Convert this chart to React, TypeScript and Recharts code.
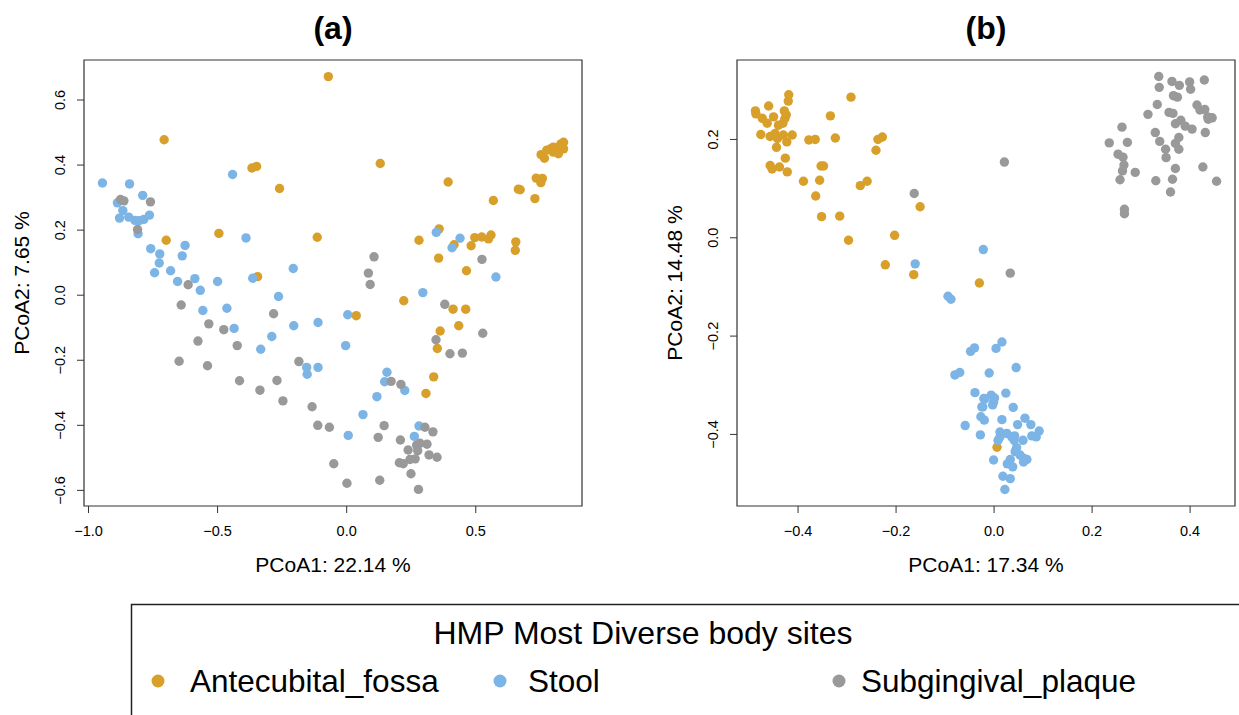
import React from 'react';
import { ScatterChart, Scatter, XAxis, YAxis, ReferenceArea } from 'recharts';

// categories and colours
const sites = ['Antecubital_fossa', 'Stool', 'Subgingival_plaque'];
const siteColors = ['#D8A02A', '#7CB4E6', '#999999'];

// panel (a) - PCoA1 vs PCoA2
const aFossa: number[][] = [
  [-0.707, 0.478], [-0.367, 0.391], [-0.349, 0.396], [-0.26, 0.328], [-0.495, 0.19], [-0.114, 0.178],
  [-0.699, 0.169], [-0.345, 0.057], [0.037, -0.063], [0.221, -0.017], [0.412, -0.043], [0.461, -0.043],
  [0.362, -0.11], [0.434, -0.094], [0.351, -0.164], [0.337, -0.251], [0.307, -0.302], [0.464, 0.075],
  [-0.071, 0.672], [0.13, 0.405], [0.393, 0.348], [0.568, 0.291], [0.665, 0.326], [0.672, 0.324],
  [0.729, 0.297], [0.734, 0.36], [0.758, 0.359], [0.752, 0.346], [0.753, 0.432], [0.766, 0.421],
  [0.775, 0.446], [0.28, 0.169], [0.358, 0.204], [0.416, 0.155], [0.496, 0.177], [0.523, 0.179],
  [0.549, 0.173], [0.559, 0.185], [0.482, 0.152], [0.655, 0.164], [0.653, 0.138], [0.356, 0.114],
  [0.79, 0.45], [0.8, 0.44], [0.81, 0.445], [0.82, 0.455], [0.83, 0.465], [0.84, 0.47],
  [0.835, 0.455], [0.82, 0.435], [0.8, 0.455], [0.84, 0.45],
];
const aStool: number[][] = [
  [-0.946, 0.345], [-0.841, 0.342], [-0.442, 0.371], [-0.79, 0.307], [-0.888, 0.284], [-0.867, 0.26],
  [-0.88, 0.237], [-0.844, 0.24], [-0.82, 0.23], [-0.804, 0.229], [-0.786, 0.233], [-0.764, 0.246],
  [-0.808, 0.189], [-0.39, 0.176], [-0.759, 0.143], [-0.626, 0.153], [-0.724, 0.127], [-0.637, 0.121],
  [-0.726, 0.099], [-0.744, 0.069], [-0.682, 0.075], [-0.207, 0.082], [-0.655, 0.042], [-0.588, 0.051],
  [-0.5, 0.042], [-0.364, 0.052], [-0.567, 0.015], [-0.557, -0.047], [-0.464, -0.04], [-0.264, -0.004],
  [-0.436, -0.102], [-0.205, -0.094], [-0.111, -0.084], [-0.29, -0.127], [-0.333, -0.166], [-0.155, -0.222],
  [-0.153, -0.243], [-0.111, -0.222], [0.578, 0.056], [0.295, 0.008], [0.004, -0.06], [-0.004, -0.155],
  [0.156, -0.237], [0.147, -0.266], [0.225, -0.293], [0.117, -0.312], [0.063, -0.367], [0.006, -0.431],
  [0.28, -0.402], [0.262, -0.434], [0.347, 0.193], [0.439, 0.175], [0.408, 0.146],
];
const aPlaque: number[][] = [
  [-0.876, 0.294], [-0.863, 0.29], [-0.76, 0.287], [-0.81, 0.202], [-0.614, 0.032], [-0.641, -0.03],
  [-0.283, -0.057], [-0.534, -0.088], [-0.476, -0.106], [-0.576, -0.141], [-0.424, -0.155], [-0.649, -0.203],
  [-0.539, -0.217], [-0.185, -0.204], [-0.415, -0.263], [-0.336, -0.292], [-0.27, -0.262], [-0.247, -0.325],
  [-0.134, -0.343], [-0.112, -0.4], [0.084, 0.068], [0.091, 0.033], [0.38, -0.028], [0.527, -0.117],
  [0.346, -0.137], [0.4, -0.18], [0.448, -0.178], [0.172, -0.265], [0.21, -0.274], [-0.067, -0.406],
  [0.145, -0.401], [0.122, -0.437], [0.303, -0.406], [0.334, -0.42], [0.208, -0.445], [0.271, -0.461],
  [0.284, -0.455], [0.311, -0.458], [0.238, -0.476], [0.275, -0.478], [0.319, -0.491], [0.35, -0.498],
  [0.245, -0.505], [0.265, -0.503], [0.204, -0.515], [0.219, -0.518], [-0.05, -0.518], [0.249, -0.549],
  [0.128, -0.569], [0.001, -0.578], [0.278, -0.597], [0.106, 0.118], [0.524, 0.11],
];

// panel (b)
const bFossa: number[][] = [
  [-0.419, 0.291], [-0.42, 0.278], [-0.292, 0.286], [-0.46, 0.268], [-0.487, 0.258], [-0.486, 0.252],
  [-0.428, 0.258], [-0.473, 0.243], [-0.463, 0.233], [-0.45, 0.246], [-0.44, 0.229], [-0.431, 0.233],
  [-0.424, 0.25], [-0.427, 0.242], [-0.334, 0.248], [-0.476, 0.21], [-0.457, 0.206], [-0.447, 0.212],
  [-0.442, 0.202], [-0.43, 0.209], [-0.423, 0.195], [-0.412, 0.209], [-0.444, 0.184], [-0.378, 0.199],
  [-0.365, 0.2], [-0.324, 0.203], [-0.237, 0.2], [-0.228, 0.205], [-0.241, 0.178], [-0.426, 0.162],
  [-0.457, 0.147], [-0.453, 0.14], [-0.438, 0.144], [-0.422, 0.134], [-0.353, 0.146], [-0.348, 0.146],
  [-0.389, 0.115], [-0.356, 0.117], [-0.273, 0.106], [-0.259, 0.115], [-0.364, 0.085], [-0.151, 0.063],
  [-0.352, 0.043], [-0.315, 0.044], [-0.297, -0.005], [-0.203, 0.005], [-0.222, -0.055], [-0.164, -0.075],
  [-0.03, -0.092], [0.006, -0.426],
];
const bStool: number[][] = [
  [-0.022, -0.024], [-0.161, -0.053], [-0.094, -0.119], [-0.088, -0.125], [-0.048, -0.231], [-0.04, -0.224],
  [-0.08, -0.279], [-0.07, -0.274], [-0.039, -0.315], [-0.021, -0.327], [-0.025, -0.344], [-0.027, -0.364],
  [-0.02, -0.371], [-0.059, -0.382], [-0.028, -0.401], [0.016, -0.212], [0.004, -0.225], [0.045, -0.264],
  [-0.01, -0.275], [0.024, -0.316], [-0.019, -0.328], [-0.006, -0.32], [0.001, -0.326], [-0.023, -0.344],
  [-0.003, -0.34], [-0.001, -0.334], [0.039, -0.345], [0.016, -0.37], [0.063, -0.367], [0.075, -0.38],
  [0.048, -0.38], [0.012, -0.395], [0.026, -0.398], [0.036, -0.405], [0.042, -0.403], [0.041, -0.412],
  [0.012, -0.405], [0.008, -0.412], [0.059, -0.412], [0.077, -0.403], [0.086, -0.405], [0.092, -0.393],
  [0.046, -0.427], [0.043, -0.435], [0.053, -0.442], [0.061, -0.449], [0.067, -0.451], [0.06, -0.456],
  [-0.001, -0.452], [0.033, -0.451], [0.027, -0.46], [0.038, -0.466], [0.018, -0.485], [0.033, -0.49],
  [0.022, -0.512],
];
const bPlaque: number[][] = [
  [0.336, 0.328], [0.337, 0.306], [0.363, 0.318], [0.378, 0.31], [0.399, 0.317], [0.401, 0.302],
  [0.429, 0.321], [0.366, 0.289], [0.374, 0.286], [0.333, 0.271], [0.414, 0.27], [0.42, 0.26],
  [0.43, 0.261], [0.436, 0.246], [0.445, 0.244], [0.437, 0.241], [0.314, 0.251], [0.357, 0.255],
  [0.365, 0.253], [0.37, 0.232], [0.381, 0.239], [0.39, 0.227], [0.404, 0.221], [0.261, 0.225],
  [0.329, 0.214], [0.431, 0.214], [0.377, 0.204], [0.37, 0.192], [0.377, 0.18], [0.338, 0.196],
  [0.235, 0.193], [0.272, 0.194], [0.35, 0.18], [0.351, 0.163], [0.253, 0.17], [0.263, 0.164],
  [0.021, 0.154], [0.265, 0.148], [0.262, 0.136], [0.288, 0.133], [0.37, 0.141], [0.426, 0.144],
  [0.257, 0.118], [0.33, 0.116], [0.364, 0.119], [0.454, 0.115], [0.36, 0.093], [0.266, 0.058],
  [0.266, 0.049], [0.033, -0.072], [-0.163, 0.09],
];

// axis ticks
const aXTicks = [-1, -0.5, 0, 0.5];
const aYTicks = [-0.6, -0.4, -0.2, 0, 0.2, 0.4, 0.6];
const bXTicks = [-0.4, -0.2, 0, 0.2, 0.4];
const bYTicks = [-0.4, -0.2, 0, 0.2];

const FONT = '"Liberation Sans", Arial, Helvetica, sans-serif';

const toPoints = (arr: number[][]) => arr.map(([x, y]) => ({ x, y }));
const fmt = (v: number) => (v < 0 ? '\u2212' : '') + Math.abs(v).toFixed(1);

const Dot = (color: string) => (props: any) => (
  <circle cx={props.cx} cy={props.cy} r={4.7} fill={color} />
);

const XTick = (props: any) => (
  <text x={props.x} y={props.y + 21} textAnchor="middle" fontSize={14.5} fontFamily={FONT} fill="#000">
    {fmt(props.payload.value)}
  </text>
);

const YTick = (props: any) => {
  const x = props.x - 10;
  return (
    <text x={x} y={props.y} transform={`rotate(-90 ${x} ${props.y})`} textAnchor="middle"
      fontSize={14.5} fontFamily={FONT} fill="#000">
      {fmt(props.payload.value)}
    </text>
  );
};

interface PanelProps {
  series: number[][][];
  xDomain: number[];
  yDomain: number[];
  xTicks: number[];
  yTicks: number[];
  width: number;
  margin: { top: number; right: number; bottom: number; left: number };
}

const Panel = ({ series, xDomain, yDomain, xTicks, yTicks, width, margin }: PanelProps) => (
  <ScatterChart width={width} height={580} margin={margin}>
    <XAxis type="number" dataKey="x" domain={xDomain} ticks={xTicks} allowDataOverflow
      axisLine={false} tickSize={7} tickMargin={2} height={60} tick={XTick}
      tickLine={{ stroke: '#333' }} interval={0} />
    <YAxis type="number" dataKey="y" domain={yDomain} ticks={yTicks} allowDataOverflow
      axisLine={false} tickSize={7} tickMargin={2} width={60} tick={YTick}
      tickLine={{ stroke: '#333' }} interval={0} />
    <ReferenceArea x1={xDomain[0]} x2={xDomain[1]} y1={yDomain[0]} y2={yDomain[1]}
      fill="none" fillOpacity={0} stroke="#333" strokeWidth={1.2} ifOverflow="visible" />
    {series.map((s, i) => (
      <Scatter key={sites[i]} name={sites[i]} data={toPoints(s)} shape={Dot(siteColors[i])}
        isAnimationActive={false} />
    ))}
  </ScatterChart>
);

// legend item anchor positions (dot centre, text start)
const legendDotX = [158, 500, 839];
const legendTextX = [190, 528, 861];

export default function App() {
  return (
    <div style={{ position: 'absolute', left: 0, top: 0, width: 1239, height: 715, background: '#fff', overflow: 'hidden', fontFamily: FONT }}>
      <div style={{ position: 'absolute', left: 0, top: 0 }}>
        <Panel series={[aFossa, aStool, aPlaque]} xDomain={[-1.0174, 0.9114]} yDomain={[-0.648, 0.723]}
          xTicks={aXTicks} yTicks={aYTicks} width={600}
          margin={{ top: 60, right: 18, bottom: 14, left: 24 }} />
      </div>
      <div style={{ position: 'absolute', left: 650, top: 0 }}>
        <Panel series={[bFossa, bStool, bPlaque]} xDomain={[-0.5246, 0.4916]} yDomain={[-0.5456, 0.3616]}
          xTicks={bXTicks} yTicks={bYTicks} width={589}
          margin={{ top: 60, right: 4, bottom: 14, left: 27 }} />
      </div>
      <svg width={1239} height={715} style={{ position: 'absolute', left: 0, top: 0, pointerEvents: 'none' }}
        fontFamily={FONT}>
        <text x={333} y={39} textAnchor="middle" fontSize={32} fontWeight="bold">(a)</text>
        <text x={986} y={39} textAnchor="middle" fontSize={32} fontWeight="bold">(b)</text>
        <text x={333} y={572} textAnchor="middle" fontSize={21}>PCoA1: 22.14 %</text>
        <text x={986} y={572} textAnchor="middle" fontSize={21}>PCoA1: 17.34 %</text>
        <text x={29} y={283} textAnchor="middle" fontSize={21} transform="rotate(-90 29 283)">PCoA2: 7.65 %</text>
        <text x={682} y={283} textAnchor="middle" fontSize={21} transform="rotate(-90 682 283)">PCoA2: 14.48 %</text>
        <rect x={131.5} y={604.5} width={1200} height={200} fill="none" stroke="#222" strokeWidth={1.5} />
        <text x={643} y={644} textAnchor="middle" fontSize={32}>HMP Most Diverse body sites</text>
        {sites.map((s, i) => (
          <g key={s}>
            <circle cx={legendDotX[i]} cy={681} r={6.5} fill={siteColors[i]} />
            <text x={legendTextX[i]} y={692} fontSize={31.5}>{s}</text>
          </g>
        ))}
      </svg>
    </div>
  );
}
